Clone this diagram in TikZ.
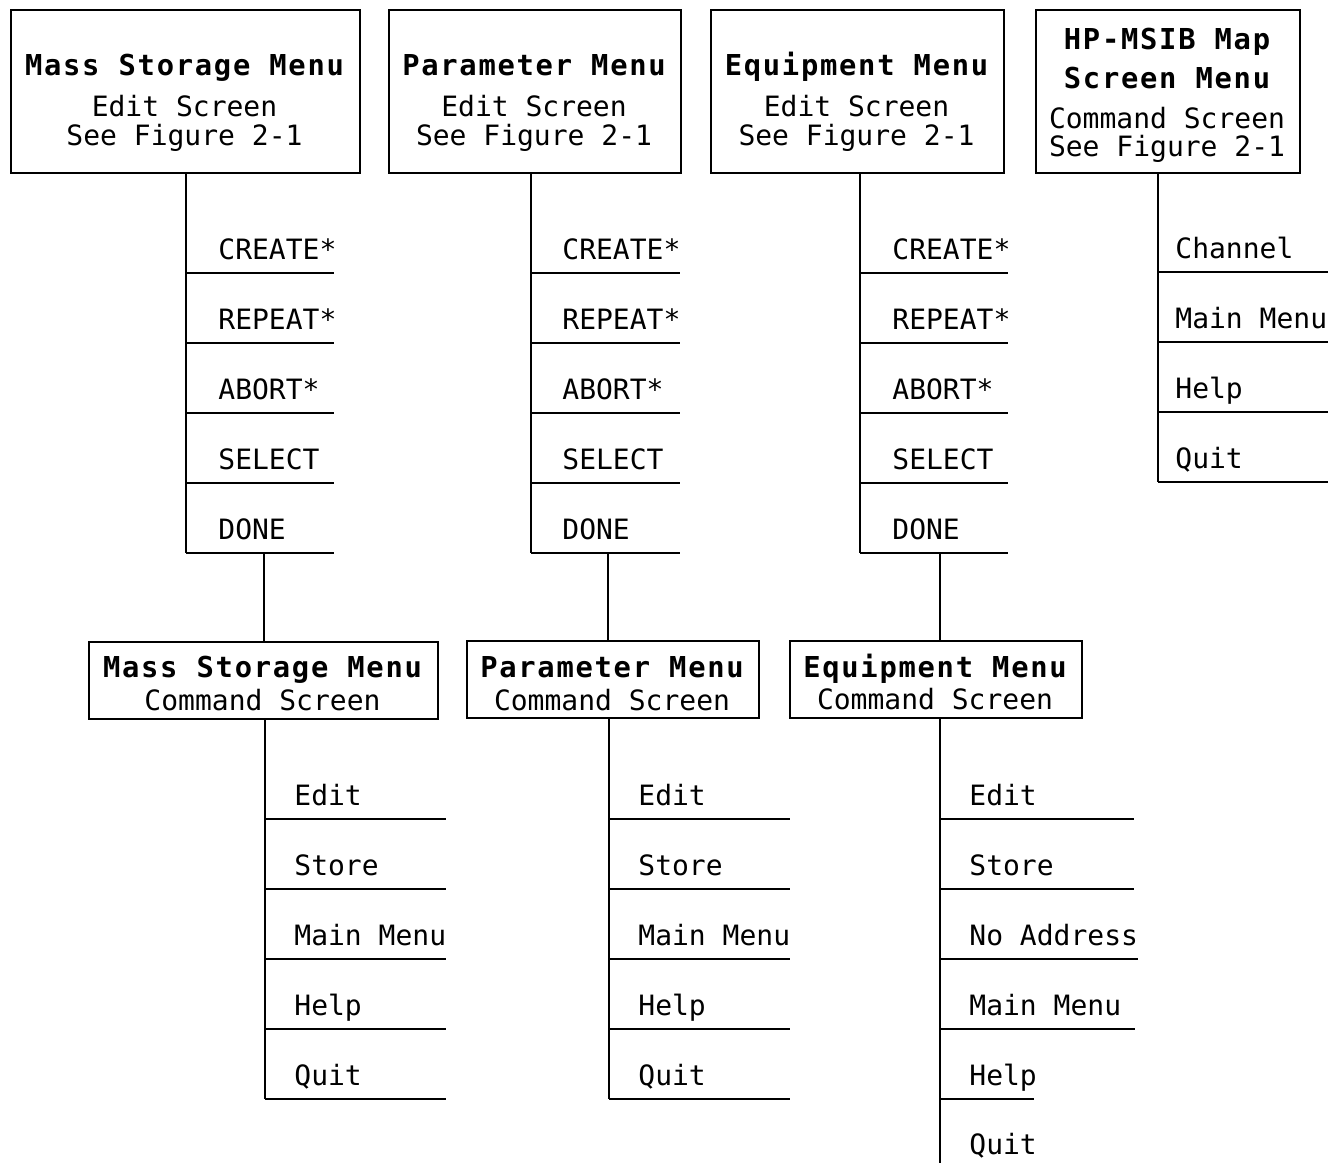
\documentclass[tikz,border=0pt]{standalone}
\usepackage{fontspec}
\newfontfamily\pmono{DejaVu Sans Mono}
\newfontfamily\ttlfont[LetterSpace=6]{DejaVu Sans Mono}
\tikzset{
  rule/.style={line width=1pt},
  box/.style={draw, line width=1pt, inner sep=0pt, anchor=north west},
  ttl/.style={anchor=base, inner sep=0pt, font=\ttlfont\bfseries\fontsize{14.4}{16}\selectfont},
  sub/.style={anchor=base, inner sep=0pt, font=\pmono\fontsize{14}{16}\selectfont},
  itm/.style={anchor=base west, inner sep=0pt, font=\pmono\fontsize{14}{16}\selectfont},
}
\begin{document}
\begin{tikzpicture}[x=0.5pt,y=-0.5pt]
\useasboundingbox (0,0) rectangle (1339,1163);
\coordinate (bottom) at (0,1163);
% top boxes
\node[box, minimum width=174.5pt, minimum height=81.5pt] (M1) at (10,9) {};
\node[box, minimum width=146pt, minimum height=81.5pt] (M2) at (388,9) {};
\node[box, minimum width=146.5pt, minimum height=81.5pt] (M3) at (710,9) {};
\node[box, minimum width=132pt, minimum height=81.5pt] (M4) at (1035,9) {};
\node[ttl] (t1a) at (184.5,75) {Mass Storage Menu};
\node[sub] (t1b) at (184.5,116) {Edit Screen};
\node[sub] (t1c) at (184.5,145) {See Figure 2-1};
\node[ttl] (t2a) at (534,75) {Parameter Menu};
\node[sub] (t2b) at (534,116) {Edit Screen};
\node[sub] (t2c) at (534,145) {See Figure 2-1};
\node[ttl] (t3a) at (856.5,75) {Equipment Menu};
\node[sub] (t3b) at (856.5,116) {Edit Screen};
\node[sub] (t3c) at (856.5,145) {See Figure 2-1};
\node[ttl] (t4a) at (1167,49) {HP-MSIB Map};
\node[ttl] (t4b) at (1167,88) {Screen Menu};
\node[sub] (t4c) at (1167,128) {Command Screen};
\node[sub] (t4d) at (1167,156) {See Figure 2-1};
% lower boxes
\node[box, minimum width=174.5pt, minimum height=38.5pt] (N1) at (88,641) {};
\node[box, minimum width=146pt, minimum height=38.5pt] (N2) at (466,640) {};
\node[box, minimum width=146pt, minimum height=38.5pt] (N3) at (789,640) {};
\node[ttl] (u1a) at (262.5,677) {Mass Storage Menu};
\node[sub] (u1b) at (262.5,710) {Command Screen};
\node[ttl] (u2a) at (612,677) {Parameter Menu};
\node[sub] (u2b) at (612,710) {Command Screen};
\node[ttl] (u3a) at (935,677) {Equipment Menu};
\node[sub] (u3b) at (935,709) {Command Screen};
% top menu items
\foreach \t [count=\i] in {CREATE*,REPEAT*,ABORT*,SELECT,DONE} {
  \node[itm] (a\i) at (218,259+70*\i-70) {\t};
  \draw[rule] (a\i.base west) ++(-32,14) coordinate (al\i) -- ++(148,0);
  \node[itm] (b\i) at (562,259+70*\i-70) {\t};
  \draw[rule] (b\i.base west) ++(-31,14) coordinate (bl\i) -- ++(149,0);
  \node[itm] (c\i) at (892,259+70*\i-70) {\t};
  \draw[rule] (c\i.base west) ++(-32,14) coordinate (cl\i) -- ++(148,0);
}
\foreach \t [count=\i] in {Channel,Main Menu,Help,Quit} {
  \node[itm] (d\i) at (1175,258+70*\i-70) {\t};
  \draw[rule] (d\i.base west) ++(-17,14) coordinate (dl\i) -- ++(170,0);
}
\draw[rule] (M1.south -| al1) -- (al5);
\draw[rule] (M2.south -| bl1) -- (bl5);
\draw[rule] (M3.south -| cl1) -- (cl5);
\draw[rule] (M4.south -| dl1) -- (dl4);
% links to lower boxes
\draw[rule] (N1.north |- al5) -- (N1.north);
\draw[rule] ([xshift=-2.5pt]N2.north |- bl5) -- ([xshift=-2.5pt]N2.north);
\draw[rule] ([xshift=2pt]N3.north |- cl5) -- ([xshift=2pt]N3.north);
% lower menu items
\foreach \t [count=\i] in {Edit,Store,Main Menu,Help,Quit} {
  \node[itm] (e\i) at (294,805+70*\i-70) {\t};
  \draw[rule] (e\i.base west) ++(-29,14) coordinate (el\i) -- ++(181,0);
  \node[itm] (f\i) at (638,805+70*\i-70) {\t};
  \draw[rule] (f\i.base west) ++(-29,14) coordinate (fl\i) -- ++(181,0);
}
\foreach \t/\l [count=\i] in {Edit/194,Store/194,No Address/198,Main Menu/195,Help/94} {
  \node[itm] (g\i) at (969,805+70*\i-70) {\t};
  \draw[rule] (g\i.base west) ++(-29,14) coordinate (gl\i) -- ++(\l,0);
}
\node[itm] (g6) at (969,1154) {Quit};
\draw[rule] (N1.south -| el1) -- (el5);
\draw[rule] (N2.south -| fl1) -- (fl5);
\draw[rule] (N3.south -| gl1) -- (gl1 |- bottom);
\end{tikzpicture}
\end{document}
